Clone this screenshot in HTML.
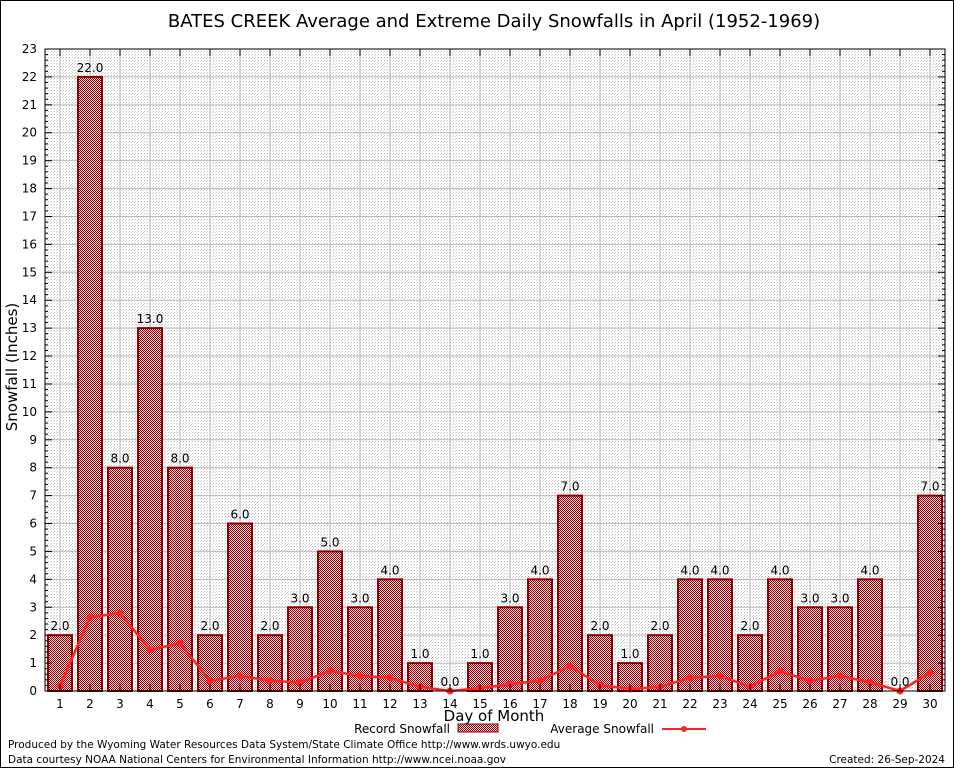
<!DOCTYPE html>
<html><head><meta charset="utf-8"><style>
body{margin:0;background:#fff;}
svg text{font-family:"DejaVu Sans","Liberation Sans",sans-serif;}
</style></head><body>
<svg id="chart" width="954" height="768" xmlns="http://www.w3.org/2000/svg">
<defs>
<pattern id="dots" width="3" height="3" patternUnits="userSpaceOnUse"><rect width="3" height="3" fill="#fff"/><rect width="1" height="1" fill="#c0c0c0"/><rect x="2" y="1" width="1" height="1" fill="#d8d8d8"/></pattern>
<pattern id="check" width="2" height="2" patternUnits="userSpaceOnUse"><rect width="2" height="2" fill="#f4dcdc"/><rect width="1" height="1" fill="#8b0000"/><rect x="1" y="1" width="1" height="1" fill="#8b0000"/></pattern>
</defs>
<rect width="954" height="768" fill="#fff"/>
<rect x="0.5" y="0.5" width="953" height="767" fill="none" stroke="#000" stroke-width="1"/>
<text x="494" y="27" font-size="18" text-anchor="middle">BATES CREEK Average and Extreme Daily Snowfalls in April (1952-1969)</text>
<rect x="45" y="49" width="900" height="642" fill="url(#dots)"/>
<g id="grid"></g>
<g id="bars"></g>
<g id="avg"></g>
<rect x="45" y="49" width="900" height="642" fill="none" stroke="#000" stroke-width="1"/>
<g id="axes"></g>
<text transform="translate(17,367) rotate(-90)" font-size="15" text-anchor="middle">Snowfall (Inches)</text>
<text x="494" y="721" font-size="15" text-anchor="middle">Day of Month</text>
<g>
<text x="450" y="733" font-size="12" text-anchor="end">Record Snowfall</text>
<rect x="458" y="724" width="40" height="8" fill="url(#check)" stroke="#8b0000"/>
</g>
<g>
<text x="654" y="733" font-size="12" text-anchor="end">Average Snowfall</text>
<line x1="662" y1="729" x2="706" y2="729" stroke="#f22" stroke-width="2"/>
<circle cx="684" cy="729" r="3" fill="#f22"/>
</g>
<text x="8" y="748" font-size="10.5">Produced by the Wyoming Water Resources Data System/State Climate Office http://www.wrds.uwyo.edu</text>
<text x="8" y="763" font-size="10.5">Data courtesy NOAA National Centers for Environmental Information http://www.ncei.noaa.gov</text>
<text x="945" y="763" font-size="10.5" text-anchor="end">Created:  26-Sep-2024</text>
</svg>
<script>
const days=[1,2,3,4,5,6,7,8,9,10,11,12,13,14,15,16,17,18,19,20,21,22,23,24,25,26,27,28,29,30];
const recordSnow=[2,22,8,13,8,2,6,2,3,5,3,4,1,0,1,3,4,7,2,1,2,4,4,2,4,3,3,4,0,7];
const avgSnow=[0.18,2.64,2.79,1.48,1.71,0.36,0.54,0.37,0.3,0.72,0.54,0.47,0.15,0,0.1,0.24,0.37,0.89,0.21,0.07,0.15,0.47,0.54,0.15,0.71,0.36,0.54,0.31,0,0.65];
const yTicks=[0,1,2,3,4,5,6,7,8,9,10,11,12,13,14,15,16,17,18,19,20,21,22,23];
const NS="http://www.w3.org/2000/svg";
const L=45,R=945,T=49,B=691,YMAX=23;
const xs=d=>L+(d-0.5)*(R-L)/30;
const ys=v=>B-v*(B-T)/YMAX;
function mk(tag,attrs,parent){const e=document.createElementNS(NS,tag);for(const k in attrs)e.setAttribute(k,attrs[k]);document.getElementById(parent).appendChild(e);return e;}
yTicks.forEach(t=>{
 const g=mk('line',{x1:L,x2:R,y1:ys(t),y2:ys(t),stroke:'#bbb','stroke-width':1},'grid');
 
 
 mk('line',{x1:L,x2:L+7,y1:ys(t),y2:ys(t),stroke:'#000'},'axes');
 mk('line',{x1:R-7,x2:R,y1:ys(t),y2:ys(t),stroke:'#000'},'axes');
 if(t<YMAX){for(let k=1;k<5;k++){const yy=ys(t+k/5);mk('line',{x1:L,x2:L+3,y1:yy,y2:yy,stroke:'#000'},'axes');mk('line',{x1:R-3,x2:R,y1:yy,y2:yy,stroke:'#000'},'axes');}}
 const tx=mk('text',{x:L-8,y:ys(t)+4,'font-size':12,'text-anchor':'end','font-family':'Liberation Serif, serif'},'axes');
 tx.textContent=t;
 
 
});
days.forEach((d,i)=>{
 const x=xs(d);
 mk('line',{x1:x,x2:x,y1:T,y2:B,stroke:'#bbb','stroke-width':1},'grid');
 mk('line',{x1:x,x2:x,y1:T,y2:T+7,stroke:'#000'},'axes');
 mk('line',{x1:x,x2:x,y1:B-7,y2:B,stroke:'#000'},'axes');
 const lb=mk('text',{x:x,y:708,'font-size':12,'text-anchor':'middle','font-family':'Liberation Serif, serif'},'axes');
 lb.textContent=d;
 
 
 const v=recordSnow[i];
 const h=B-ys(v);
 if(h>0){const b=mk('rect',{x:x-12,y:ys(v),width:24,height:h,fill:'url(#check)',stroke:'#8b0000','stroke-width':2},'bars');
 
 }
 const vl=mk('text',{x:x,y:ys(v)-5,'font-size':12,'text-anchor':'middle'},'bars');
 vl.textContent=v.toFixed(1);
 
 
});
const pts=days.map((d,i)=>xs(d)+','+ys(avgSnow[i])).join(' ');
const pl=mk('polyline',{points:pts,fill:'none',stroke:'#f22','stroke-width':2.5},'avg');


days.forEach((d,i)=>{
 const c=mk('circle',{cx:xs(d),cy:ys(avgSnow[i]),r:3.5,fill:'#f22'},'avg');
 
 
});
</script>
</body></html>
